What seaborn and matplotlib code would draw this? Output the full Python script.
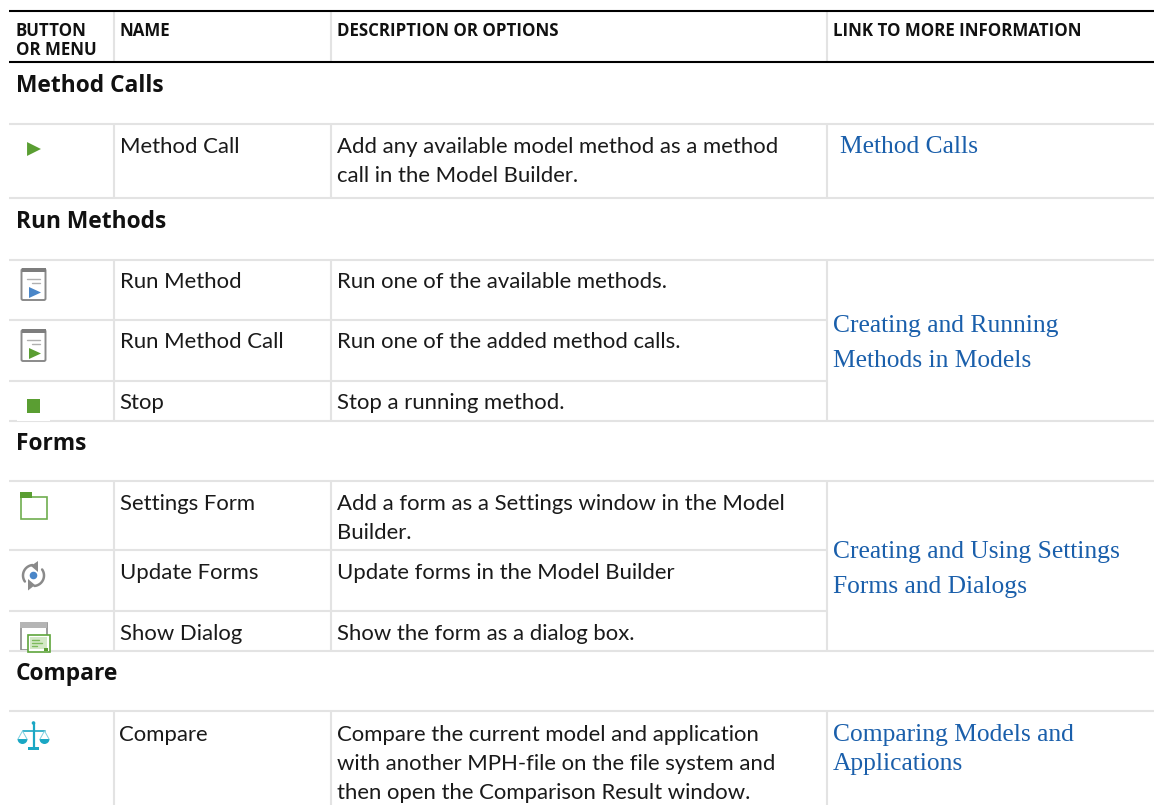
import matplotlib
matplotlib.use("Agg")
import matplotlib.pyplot as plt
import matplotlib.patches as mp
import numpy as np
import pandas as pd
import seaborn as sns

# table content
header_1 = ["BUTTON", "OR MENU"]
header_cols = ["NAME", "DESCRIPTION OR OPTIONS", "LINK TO MORE INFORMATION"]
groups = ["Method Calls", "Run Methods", "Forms", "Compare"]
names = ["Method Call", "Run Method", "Run Method Call", "Stop",
         "Settings Form", "Update Forms", "Show Dialog", "Compare"]
descriptions = [
    ["Add any available model method as a method", "call in the Model Builder."],
    ["Run one of the available methods."],
    ["Run one of the added method calls."],
    ["Stop a running method."],
    ["Add a form as a Settings window in the Model", "Builder."],
    ["Update forms in the Model Builder"],
    ["Show the form as a dialog box."],
    ["Compare the current model and application", "with another MPH-file on the file system and",
     "then open the Comparison Result window."],
]
links = [
    ["Method Calls"],
    ["Creating and Running", "Methods in Models"],
    ["Creating and Using Settings", "Forms and Dialogs"],
    ["Comparing Models and", "Applications"],
]

# layout in pixels
W, H = 1154, 805
LEFT = 9
COL_X = [113.5, 330.5, 826.5]
GROUP_Y = [91.7, 228, 450, 680]
ROW_Y = [152.7, 288, 348, 409, 510, 579, 640, 740.7]
LINK_Y = [152.7, 332, 558, 741]
LINK_X = [840, 833, 833, 833]
FULL_RULES = [124, 198.5, 260, 421, 481, 651, 711]
PART_RULES = [320, 381, 550, 611]
V_SPANS = [(124, 198.5), (260, 421), (481, 651), (711, 805)]

GRAY = "#e3e3e3"
GREEN = "#5a9e32"
ICON_GRAY = "#8a8a8a"
BLUE = "#4a86c8"
CYAN = "#1aa7c4"
LINK = "#1a5fab"
SANS = "Lato"
BOLD = "Open Sans"
SERIF = "Liberation Serif"

BODY = 15.9
HEAD = 12.2
GROUP = 16.4
LINK_SIZE = 18.4
BODY_STEP = 29
LINK_STEP = 35

sns.set_theme(style="white")
plt.rcParams["font.family"] = [SANS, "DejaVu Sans"]

fig, ax = plt.subplots(figsize=(W / 100, H / 100), dpi=100)
fig.subplots_adjust(0, 0, 1, 1)
ax.set_xlim(0, W)
ax.set_ylim(H, 0)
ax.axis("off")

# rules
ax.hlines(FULL_RULES, LEFT, W, color=GRAY, lw=1.5)
ax.hlines(PART_RULES, LEFT, COL_X[2], color=GRAY, lw=1.5)
for top, bottom in V_SPANS:
    ax.vlines(COL_X, top, bottom, color=GRAY, lw=1.5)
ax.vlines(COL_X, 11, 62.5, color=GRAY, lw=1.5)
ax.hlines([11, 62.5], LEFT, W, color="black", lw=1.5)
ax.add_patch(mp.Rectangle((17, 418.5), 33, 2, color="white", lw=0, zorder=2))

# text
for y, t in zip([35.5, 55], header_1):
    ax.text(15.5, y, t, fontsize=HEAD, fontweight="bold", family=BOLD, color="#111111")
for x, t in zip([119.5, 337, 833], header_cols):
    ax.text(x, 35.5, t, fontsize=HEAD, fontweight="bold", family=BOLD, color="#111111")
for y, t in zip(GROUP_Y, groups):
    ax.text(15.5, y, t, fontsize=GROUP, fontweight="bold", family=BOLD, color="#111111")
for y, t, d in zip(ROW_Y, names, descriptions):
    ax.text(119.5, y, t, fontsize=BODY, color="#1a1a1a")
    for i, line in enumerate(d):
        ax.text(337, y + i * BODY_STEP, line, fontsize=BODY, color="#1a1a1a")
for x, y, l in zip(LINK_X, LINK_Y, links):
    step = 29 if l[0].startswith("Comparing") else LINK_STEP
    for i, line in enumerate(l):
        ax.text(x, y + i * step, line, fontsize=LINK_SIZE, color=LINK, family=SERIF)

# simple icons from seaborn markers
marks = pd.DataFrame({"x": [34, 33.5], "y": [149, 406], "m": ["play", "stop"]})
sns.scatterplot(data=marks, x="x", y="y", style="m", markers={"play": ">", "stop": "s"},
                color=GREEN, s=100, linewidth=0, legend=False, ax=ax, zorder=3)
ax.set_xlim(0, W)
ax.set_ylim(H, 0)
ax.axis("off")


def doc_icon(top, color):
    ax.add_patch(mp.FancyBboxPatch((21.5, top + 1), 24, 31, boxstyle="round,pad=0,rounding_size=1.5",
                                   fc="white", ec=ICON_GRAY, lw=1.4))
    ax.add_patch(mp.Rectangle((21.5, top), 24, 4, color="#7d7d7d", lw=0))
    ax.plot([27, 40], [top + 11, top + 11], color="#b0b0b0", lw=1)
    ax.plot([32, 40], [top + 15.5, top + 15.5], color="#b0b0b0", lw=1)
    ax.add_patch(mp.Polygon([(29, top + 19), (41, top + 24.5), (29, top + 30)], color=color, lw=0))


doc_icon(268, BLUE)
doc_icon(329, GREEN)

# settings form
ax.add_patch(mp.Rectangle((20.5, 497), 26, 21.5, fc="white", ec="#6fae4f", lw=1.2))
ax.add_patch(mp.Rectangle((20, 492), 12, 6, color=GREEN, lw=0))

# update forms
ax.add_patch(mp.Circle((33.5, 575.5), 3.8, color=BLUE, lw=0))
for a, b in [(145, 265), (-35, 85)]:
    t = np.radians(np.linspace(a, b, 30))
    ax.plot(33.5 + 10.5 * np.cos(t), 575.5 + 10.5 * np.sin(t), color=ICON_GRAY, lw=1.8)
ax.add_patch(mp.Polygon([(38, 561), (38, 572), (31, 566)], color=ICON_GRAY, lw=0))
ax.add_patch(mp.Polygon([(28, 579), (28, 590.5), (35, 585)], color=ICON_GRAY, lw=0))

# show dialog
ax.add_patch(mp.Rectangle((20.5, 622.5), 26, 27, fc="white", ec=ICON_GRAY, lw=1.2))
ax.add_patch(mp.Rectangle((20, 622), 27, 6, color="#b5b5b5", lw=0))
ax.add_patch(mp.Rectangle((27.5, 634.5), 22, 17, fc="white", ec="#5fa53c", lw=1.2, zorder=3))
ax.add_patch(mp.Rectangle((30, 637), 17, 12, color="#d3e8c6", lw=0, zorder=3))
for y, x1 in zip([639.5, 642.5, 645.5], [39, 42, 37]):
    ax.plot([32, x1], [y, y], color="#7dbb5c", lw=1, zorder=4)
ax.add_patch(mp.Rectangle((44, 648), 4, 2.5, color=GREEN, lw=0, zorder=4))

# compare scales
ax.plot([33.5, 33.5], [723, 748], color=CYAN, lw=1.6)
ax.add_patch(mp.Circle((33.5, 723), 1.8, color=CYAN, lw=0))
ax.plot([22.5, 44.5], [730.5, 730.5], color=CYAN, lw=1.2)
ax.add_patch(mp.Rectangle((28, 747), 11, 3, color=CYAN, lw=0))
for cx in [22.5, 44.5]:
    ax.add_patch(mp.Wedge((cx, 739), 5, 0, 180, color=CYAN, lw=0))
    ax.plot([cx - 4.5, cx, cx + 4.5], [739, 731, 739], color="#7fd0e0", lw=0.7)

fig.savefig("out.png", dpi=100)
